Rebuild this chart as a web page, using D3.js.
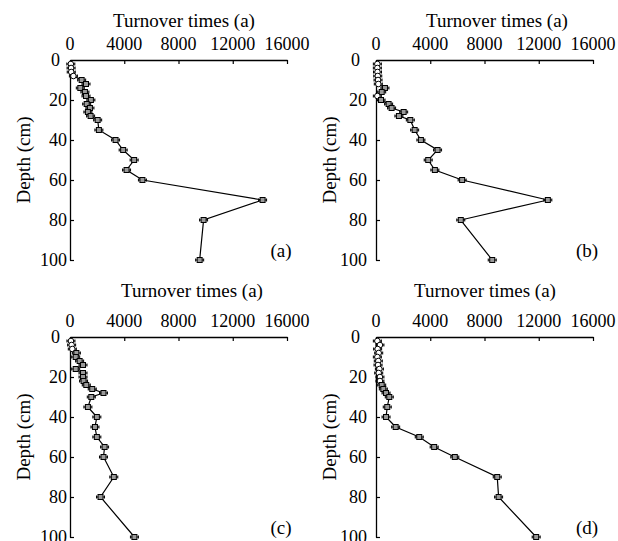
<!DOCTYPE html>
<html>
<head>
<meta charset="utf-8">
<script src="https://cdn.jsdelivr.net/npm/d3@7"></script>
<style>
  html, body { margin: 0; padding: 0; background: #fff; }
  svg { display: block; font-family: "Liberation Serif", "Times New Roman", serif; }
</style>
</head>
<body>
<div id="chart"></div>
<script>
// depth of each sample (cm), shared by all four profiles
const depths = [2, 4, 6, 8, 10, 12, 14, 16, 18, 20, 22, 24, 26, 28, 30,
                35, 40, 45, 50, 55, 60, 70, 80, 100];

// turnover times (a)
const turnoverA = [60, 80, 90, 250, 860, 1180, 760, 1100, 1180, 1540, 1230, 1470, 1320, 1520, 2040,
                   2130, 3360, 3920, 4730, 4170, 5340, 14200, 9850, 9560];
const turnoverB = [100, 100, 110, 130, 150, 170, 660, 420, 100, 370, 930, 1150, 2040, 1690, 2530,
                   2850, 3310, 4540, 3850, 4340, 6350, 12670, 6250, 8570];
const turnoverC = [70, 120, 170, 470, 420, 710, 960, 420, 960, 960, 1000, 1200, 1640, 2470, 1570,
                   1320, 1980, 1840, 1980, 2550, 2470, 3230, 2250, 4750];
const turnoverD = [100, 290, 120, 200, 100, 170, 150, 250, 200, 290, 290, 420, 540, 740, 980,
                   830, 740, 1450, 3190, 4290, 5810, 8940, 9040, 11810];

const xTicks = [0, 4000, 8000, 12000, 16000];
const yTicks = [0, 20, 40, 60, 80, 100];
const panelLetters = ['(a)', '(b)', '(c)', '(d)'];
const xTitle = 'Turnover times (a)';
const yTitle = 'Depth (cm)';

const width = 618
    , height = 541
    , plotW = 217
    , plotH = 200
    , fontSize = 19
    , tickFont = 18
    ;

const panels = [
  { values: turnoverA, x0: 70,  y0: 60,  titleX: 184, titleY: 27,  tickDx: 3 },
  { values: turnoverB, x0: 376, y0: 60,  titleX: 497, titleY: 27,  tickDx: 9 },
  { values: turnoverC, x0: 70,  y0: 337, titleX: 192, titleY: 297, tickDx: 3 },
  { values: turnoverD, x0: 376, y0: 337, titleX: 485, titleY: 297, tickDx: 9 },
];

const svg = d3.select('#chart')
  .append('svg')
  .attr('width', width)
  .attr('height', height);

panels.forEach((p, i) => {
  const x = d3.scaleLinear().domain([0, 16000]).range([0, plotW]);
  const y = d3.scaleLinear().domain([0, 100]).range([0, plotH]);

  const g = svg.append('g')
    .attr('transform', `translate(${p.x0},${p.y0})`);

  // x axis along the top, ticks pointing inward
  const xAxis = g.append('g')
    .call(d3.axisBottom(x).tickValues(xTicks).tickSize(4).tickSizeOuter(0).tickFormat(''));
  xAxis.select('.domain').attr('stroke', '#000').attr('stroke-width', 1.3);
  xAxis.selectAll('.tick line').attr('stroke', '#000').attr('stroke-width', 1.2);

  g.append('g')
    .selectAll('text')
    .data(xTicks)
    .join('text')
      .attr('x', d => x(d))
      .attr('y', -10)
      .attr('text-anchor', 'middle')
      .style('font-size', `${tickFont}px`)
      .text(d => d);

  // y axis on the left, ticks pointing inward
  const yAxis = g.append('g')
    .call(d3.axisRight(y).tickValues(yTicks.slice(1)).tickSize(4).tickSizeOuter(0).tickFormat(''));
  yAxis.select('.domain').attr('stroke', '#000').attr('stroke-width', 1.3);
  yAxis.selectAll('.tick line').attr('stroke', '#000').attr('stroke-width', 1.2);

  g.append('g')
    .selectAll('text')
    .data(yTicks)
    .join('text')
      .attr('x', d => d === 0 ? -p.tickDx - 7 : -p.tickDx)
      .attr('y', d => y(d))
      .attr('dy', '0.35em')
      .attr('text-anchor', 'end')
      .style('font-size', `${tickFont}px`)
      .text(d => d);

  // titles
  svg.append('text')
    .attr('x', p.titleX)
    .attr('y', p.titleY)
    .attr('text-anchor', 'middle')
    .style('font-size', `${fontSize}px`)
    .text(xTitle);

  svg.append('text')
    .attr('transform', `translate(${p.x0 - 40},${p.y0 + plotH / 2}) rotate(-90)`)
    .attr('text-anchor', 'middle')
    .style('font-size', `${fontSize}px`)
    .text(yTitle);

  g.append('text')
    .attr('x', plotW - 6)
    .attr('y', plotH - 3)
    .attr('text-anchor', 'middle')
    .style('font-size', `${fontSize}px`)
    .text(panelLetters[i]);

  const pts = depths.map((d, j) => ({ depth: d, value: p.values[j] }));

  g.append('path')
    .datum(pts)
    .attr('fill', 'none')
    .attr('stroke', '#000')
    .attr('stroke-width', 1.2)
    .attr('d', d3.line().x(d => x(d.value)).y(d => y(d.depth)));

  const marks = g.append('g')
    .selectAll('g')
    .data(pts)
    .join('g')
      .attr('transform', d => `translate(${x(d.value)},${y(d.depth)})`);

  // small horizontal error whiskers
  marks.append('path')
    .attr('fill', 'none')
    .attr('stroke', '#000')
    .attr('stroke-width', 1)
    .attr('d', 'M-4,0H4M-4,-1.5V1.5M4,-1.5V1.5');

  marks.filter(d => d.value < 300)
    .append('circle')
    .attr('r', 2.8)
    .attr('fill', '#fff')
    .attr('stroke', '#000')
    .attr('stroke-width', 1);

  marks.filter(d => d.value >= 300)
    .append('rect')
    .attr('x', -2.5)
    .attr('y', -2.5)
    .attr('width', 5)
    .attr('height', 5)
    .attr('fill', '#999')
    .attr('stroke', '#000')
    .attr('stroke-width', 1);
});
</script>
</body>
</html>
